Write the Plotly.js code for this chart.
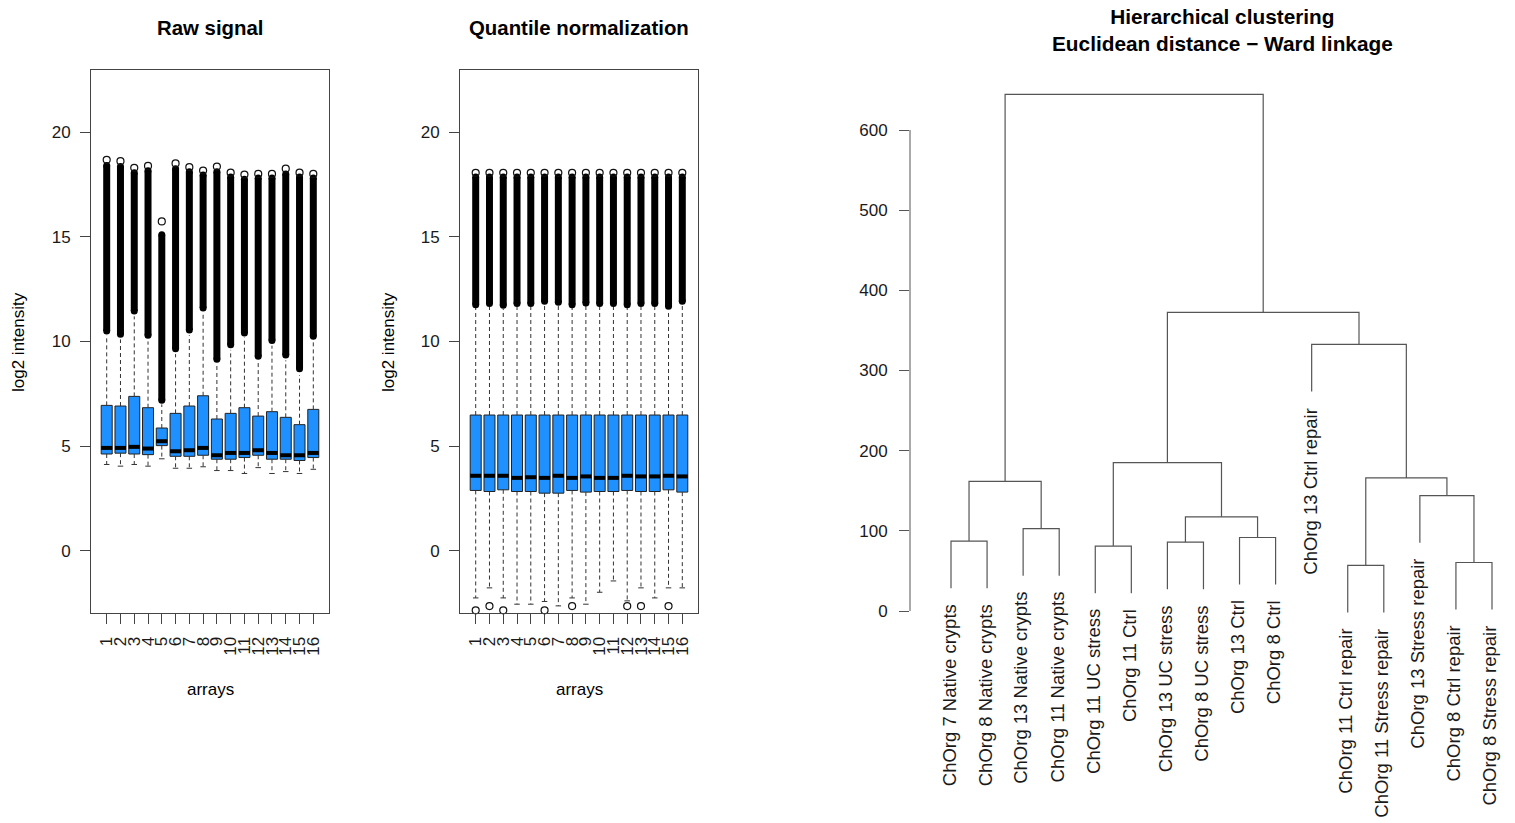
<!DOCTYPE html>
<html><head><meta charset="utf-8">
<script src="https://cdn.plot.ly/plotly-3.0.1.min.js"></script>
<style>html,body{margin:0;padding:0;background:#fff}#chart{width:1515px;height:823px}</style>
</head><body><div id="chart"></div>
<script>
// ---------------- data ----------------
const arrays = [1,2,3,4,5,6,7,8,9,10,11,12,13,14,15,16];
const arrayLabels = ["1","2","3","4","5","6","7","8","9","10","11","12","13","14","15","16"];
const yTicks = [0,5,10,15,20];

// Raw signal (log2 intensity)
const rawQ1        = [4.63,4.67,4.63,4.60,5.03,4.52,4.52,4.57,4.38,4.38,4.46,4.57,4.38,4.38,4.32,4.46];
const rawMedian    = [4.92,4.92,4.97,4.89,5.24,4.76,4.81,4.92,4.57,4.68,4.68,4.81,4.68,4.57,4.57,4.68];
const rawQ3        = [6.95,6.92,7.38,6.84,5.87,6.57,6.92,7.41,6.30,6.57,6.84,6.44,6.65,6.38,6.03,6.76];
const rawWhiskLow  = [4.13,4.05,4.13,4.05,4.40,3.95,3.95,4.02,3.84,3.84,3.70,3.98,3.70,3.79,3.70,3.90];
const rawWhiskHigh = [10.3,10.1,11.2,10.0,7.0,9.4,10.3,11.4,8.9,9.6,10.2,9.1,9.8,9.1,8.4,10.0];
const rawOutLow    = [10.5,10.35,11.45,10.3,7.2,9.65,10.55,11.6,9.15,9.85,10.4,9.3,10.05,9.35,8.7,10.25];
const rawOutHigh   = [18.4,18.35,18.05,18.15,15.1,18.25,18.1,17.95,18.1,17.85,17.75,17.8,17.8,18.0,17.85,17.8];
const rawOutMax    = [18.67,18.61,18.29,18.38,15.73,18.5,18.32,18.16,18.35,18.06,17.97,18.0,18.0,18.25,18.06,18.0];

// Quantile normalization
const qnQ1        = [2.89,2.84,2.92,2.84,2.84,2.76,2.76,2.89,2.81,2.84,2.84,2.89,2.84,2.84,2.92,2.81];
const qnMedian    = [3.59,3.59,3.59,3.49,3.52,3.49,3.59,3.49,3.56,3.49,3.49,3.59,3.56,3.56,3.59,3.56];
const qnQ3        = [6.49,6.49,6.49,6.49,6.49,6.49,6.49,6.49,6.49,6.49,6.49,6.49,6.49,6.49,6.49,6.49];
const qnWhiskLow  = [-2.24,-1.76,-2.24,-2.54,-2.54,-2.41,-2.62,-2.24,-2.54,-1.97,-1.43,-2.38,-1.76,-2.24,-1.76,-1.76];
const qnWhiskHigh = [11.6,11.65,11.55,11.65,11.65,11.75,11.7,11.6,11.7,11.65,11.65,11.6,11.65,11.65,11.5,11.75];
const qnOutLow    = [11.76,11.81,11.73,11.81,11.81,11.92,11.87,11.76,11.84,11.81,11.81,11.76,11.81,11.81,11.68,11.92];
const qnOutHigh   = [17.85,17.85,17.85,17.85,17.85,17.85,17.85,17.85,17.85,17.85,17.85,17.85,17.85,17.85,17.85,17.85];
const qnOutMax    = [18.05,18.05,18.05,18.05,18.05,18.05,18.05,18.05,18.05,18.05,18.05,18.05,18.05,18.05,18.05,18.05];
const qnLowOutliers = [-2.83,-2.63,-2.83,null,null,-2.83,null,-2.63,null,null,null,-2.63,-2.63,null,-2.63,null];

// Hierarchical clustering (leaves in plotted order)
const leafLabels = ["ChOrg 7 Native crypts","ChOrg 8 Native crypts","ChOrg 13 Native crypts","ChOrg 11 Native crypts",
  "ChOrg 11 UC stress","ChOrg 11 Ctrl","ChOrg 13 UC stress","ChOrg 8 UC stress","ChOrg 13 Ctrl","ChOrg 8 Ctrl",
  "ChOrg 13 Ctrl repair","ChOrg 11 Ctrl repair","ChOrg 11 Stress repair","ChOrg 13 Stress repair",
  "ChOrg 8 Ctrl repair","ChOrg 8 Stress repair"];
// merge children: negative = leaf position (1-based), positive = earlier merge step
const mergeLeft   = [-12,-15,-5,-7,-1,-9,-3, 4,-14, 5, 1, 3,-11,12,10];
const mergeRight  = [-13,-16,-6,-8,-2,-10,-4, 6,  2, 7, 9, 8, 11,13,14];
const mergeHeight = [57.0,60.5,81.0,85.9,87.2,91.7,102.8,117.5,143.8,161.6,166.0,185.2,332.5,372.5,644.5];
const dendroTicks = [0,100,200,300,400,500,600];

// ---------------- layout helpers ----------------
const W = 1515, H = 823;
const px = x => x / W;
const py = y => 1 - y / H;
const FONT = "Liberation Sans, Arial, Helvetica, sans-serif";
const TXT = "#1a1a1a";
const LINE = "#444";

const traces = [];

function boxPanel(ax, ay, q1, med, q3, wl, wh, ol, oh, om, lowOut) {
  traces.push({type:'box', orientation:'v', x: arrays, q1: q1, median: med, q3: q3,
    lowerfence: q1, upperfence: q3, width: 0.8, whiskerwidth: 0,
    fillcolor: '#1E90FF', line: {color: '#222', width: 1}, boxpoints: false,
    hoverinfo: 'skip', showlegend: false, xaxis: ax, yaxis: ay});
  // whiskers (dashed)
  const wx = [], wy = [];
  arrays.forEach((a, i) => { wx.push(a, a, null, a, a, null); wy.push(q3[i], wh[i], null, q1[i], wl[i], null); });
  traces.push({type:'scatter', mode:'lines', x: wx, y: wy, line:{color:'#333', width:1, dash:'4px,3px'},
    hoverinfo:'skip', showlegend:false, xaxis: ax, yaxis: ay});
  // staples
  const sx = [], sy = [];
  arrays.forEach((a, i) => { sx.push(a-0.2, a+0.2, null); sy.push(wl[i], wl[i], null); });
  traces.push({type:'scatter', mode:'lines', x: sx, y: sy, line:{color:'#333', width:1},
    hoverinfo:'skip', showlegend:false, xaxis: ax, yaxis: ay});
  // medians (thick)
  const mx = [], my = [];
  arrays.forEach((a, i) => { mx.push(a-0.4, a+0.4, null); my.push(med[i], med[i], null); });
  traces.push({type:'scatter', mode:'lines', x: mx, y: my, line:{color:'#000', width:4},
    hoverinfo:'skip', showlegend:false, xaxis: ax, yaxis: ay});
  // dense outlier columns
  const ox = [], oy = [];
  arrays.forEach((a, i) => { ox.push(a, a, null); oy.push(ol[i], oh[i], null); });
  traces.push({type:'scatter', mode:'lines', x: ox, y: oy, line:{color:'#000', width:7},
    hoverinfo:'skip', showlegend:false, xaxis: ax, yaxis: ay, cliponaxis:false});
  traces.push({type:'scatter', mode:'markers', x: arrays.concat(arrays), y: ol.concat(oh),
    marker:{symbol:'circle', size:7, color:'#000', line:{width:0}},
    hoverinfo:'skip', showlegend:false, xaxis: ax, yaxis: ay, cliponaxis:false});
  const tx = [], ty = [];
  arrays.forEach((a, i) => { tx.push(a); ty.push(om[i]); });
  if (lowOut) arrays.forEach((a, i) => { if (lowOut[i] !== null) { tx.push(a); ty.push(lowOut[i]); } });
  traces.push({type:'scatter', mode:'markers', x: tx, y: ty,
    marker:{symbol:'circle-open', size:7, color:'#111', line:{width:1.2, color:'#111'}},
    hoverinfo:'skip', showlegend:false, xaxis: ax, yaxis: ay, cliponaxis:false});
}

boxPanel('x', 'y', rawQ1, rawMedian, rawQ3, rawWhiskLow, rawWhiskHigh, rawOutLow, rawOutHigh, rawOutMax, null);
boxPanel('x2', 'y2', qnQ1, qnMedian, qnQ3, qnWhiskLow, qnWhiskHigh, qnOutLow, qnOutHigh, qnOutMax, qnLowOutliers);

// ---------------- dendrogram ----------------
const hMax = Math.max(...mergeHeight), hMin = Math.min(...mergeHeight);
const hang = 0.1 * (hMax - hMin);
const nodeX = [], nodeY = [];
const leafEnd = new Array(leafLabels.length).fill(0);
const dx = [], dy = [];
mergeHeight.forEach((h, k) => {
  const kids = [mergeLeft[k], mergeRight[k]].map(c => {
    if (c < 0) { const pos = -c; leafEnd[pos-1] = h - hang; return {x: pos, y: h - hang}; }
    return {x: nodeX[c-1], y: nodeY[c-1]};
  });
  dx.push(kids[0].x, kids[0].x, kids[1].x, kids[1].x, null);
  dy.push(kids[0].y, h, h, kids[1].y, null);
  nodeX[k] = (kids[0].x + kids[1].x) / 2;
  nodeY[k] = h;
});
traces.push({type:'scatter', mode:'lines', x: dx, y: dy, line:{color:'#555', width:1.2},
  hoverinfo:'skip', showlegend:false, xaxis:'x3', yaxis:'y3', cliponaxis:false});

// ---------------- axes ----------------
const leaf1Px = 951, leafStep = (1492 - 951) / 15;
const x3Left = 1 - (leaf1Px - 910) / leafStep;
const x3Right = 16 + (W - 1492) / leafStep;
const unitPx = (611 - 130) / 600;
const y3Top = (611 - 85) / unitPx, y3Bot = (611 - 640) / unitPx;

const tickFont = {family: FONT, size: 17, color: TXT};
function boxX(domain, anchor) {
  return {domain: domain, anchor: anchor, range: [-0.14, 17.14], tickmode:'array', tickvals: arrays, ticktext: arrayLabels,
    tickangle: -90, ticks:'outside', ticklen: 10, tickcolor: LINE, tickwidth: 1, showline: true, mirror: true,
    linecolor: LINE, linewidth: 1, showgrid: false, zeroline: false, tickfont: tickFont, ticklabelstandoff: 6, fixedrange: true};
}
function boxY(anchor) {
  return {domain: [py(613), py(70)], anchor: anchor, range: [-2.96, 22.96], tickmode:'array', tickvals: yTicks,
    ticks:'outside', ticklen: 10, tickcolor: LINE, tickwidth: 1, showline: true, mirror: true,
    linecolor: LINE, linewidth: 1, showgrid: false, zeroline: false, tickfont: tickFont, ticklabelstandoff: 6, fixedrange: true};
}

const annotations = [];
function ann(text, x, y, size, bold, angle) {
  annotations.push({text: bold ? '<b>' + text + '</b>' : text, x: px(x), y: py(y), xref:'paper', yref:'paper',
    xanchor:'center', yanchor:'middle', showarrow:false, textangle: angle || 0,
    font:{family: FONT, size: size, color: '#000'}});
}
ann('Raw signal', 210, 28, 20.4, true);
ann('Quantile normalization', 579, 28, 20.4, true);
ann('Hierarchical clustering<br>Euclidean distance \u2212 Ward linkage', 1222, 30.5, 20.8, true);
ann('log2 intensity', 19, 342, 17, false, -90);
ann('log2 intensity', 389, 342, 17, false, -90);
ann('arrays', 210, 689, 17, false);
ann('arrays', 579, 689, 17, false);

leafLabels.forEach((lab, i) => {
  annotations.push({text: lab, x: i + 1, y: leafEnd[i], xref:'x3', yref:'y3', xanchor:'center', yanchor:'top',
    yshift: -14, xshift: -2, textangle: -90, showarrow:false, font:{family: FONT, size: 18.5, color: TXT}});
});

const layout = {
  width: W, height: H, margin:{l:0, r:0, t:0, b:0}, paper_bgcolor:'#fff', plot_bgcolor:'rgba(0,0,0,0)',
  showlegend:false, font:{family: FONT, color: TXT},
  xaxis: boxX([px(91), px(329)], 'y'),
  yaxis: boxY('x'),
  xaxis2: boxX([px(460), px(698)], 'y2'),
  yaxis2: boxY('x2'),
  xaxis3: {domain:[px(910), 1], anchor:'y3', range:[x3Left, x3Right], visible:false, fixedrange:true},
  yaxis3: {domain:[py(640), py(85)], anchor:'x3', range:[y3Bot, y3Top], tickmode:'array', tickvals: dendroTicks,
    ticks:'outside', ticklen: 10, tickcolor:'#555', tickwidth:1, showline:false, showgrid:false, zeroline:false,
    tickfont: tickFont, ticklabelstandoff: 8, fixedrange:true},
  shapes: [{type:'line', xref:'x3 domain', yref:'y3', x0:0, x1:0, y0: dendroTicks[0], y1: dendroTicks[dendroTicks.length-1],
    line:{color:'#555', width:1}}],
  annotations: annotations
};

Plotly.newPlot('chart', traces, layout, {displayModeBar:false, staticPlot:true});
</script></body></html>
